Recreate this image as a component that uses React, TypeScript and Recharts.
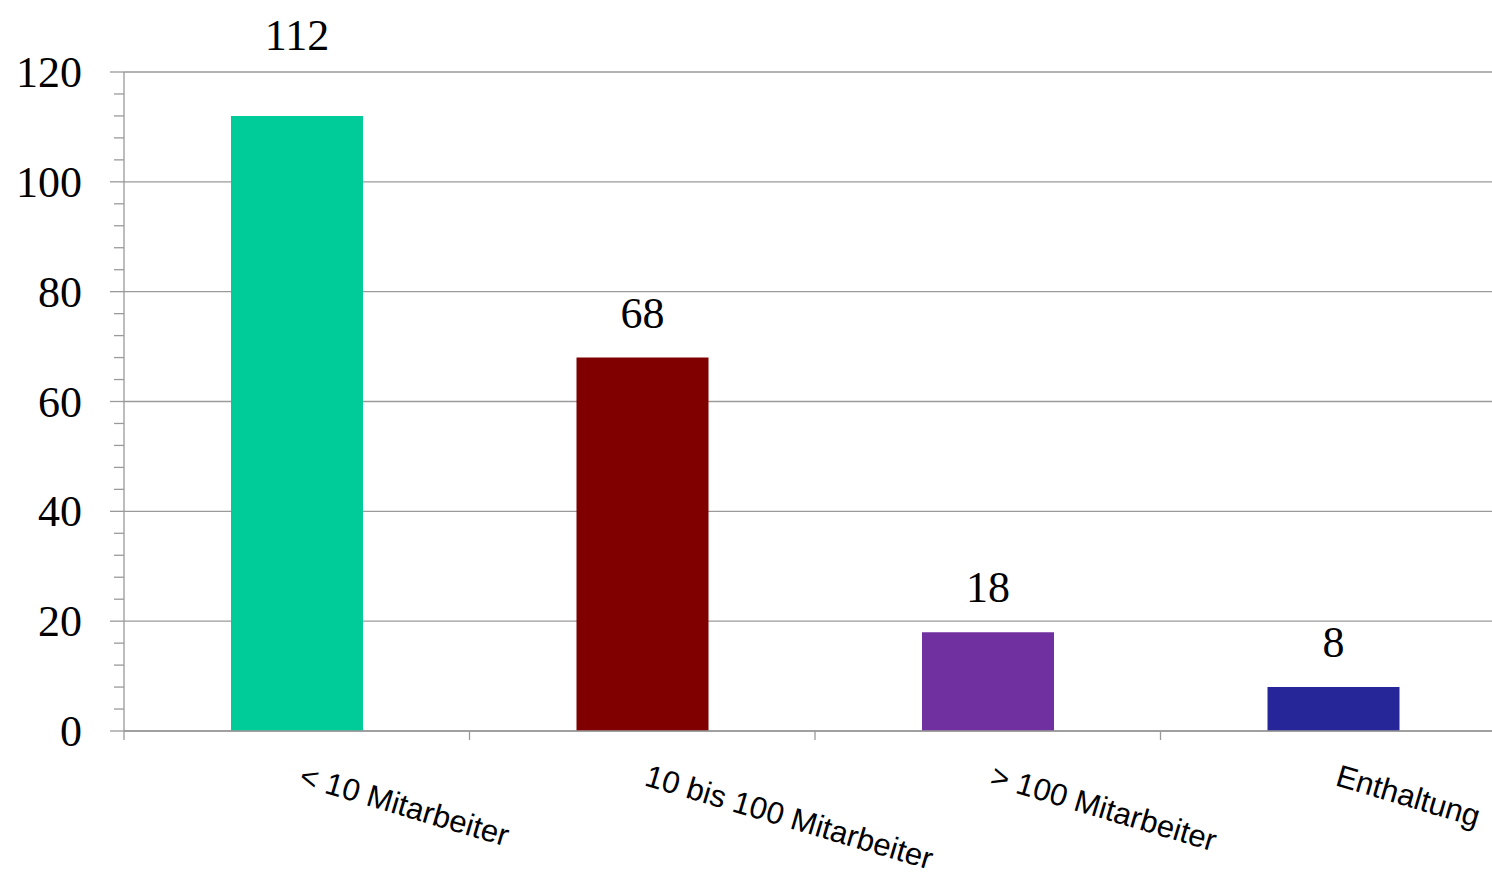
import React from 'react';
import { BarChart, Bar, XAxis, YAxis, CartesianGrid, Cell, LabelList } from 'recharts';

const categories = ['< 10 Mitarbeiter', '10 bis 100 Mitarbeiter', '> 100 Mitarbeiter', 'Enthaltung'];
const values = [112, 68, 18, 8];
const barColors = ['#00CC99', '#800000', '#7030A0', '#262699'];
const majorTicks = [0, 20, 40, 60, 80, 100, 120];
const allTicks = [0, 4, 8, 12, 16, 20, 24, 28, 32, 36, 40, 44, 48, 52, 56, 60, 64, 68, 72, 76, 80, 84, 88, 92, 96, 100, 104, 108, 112, 116, 120];

const data = categories.map((c, i) => ({ name: c, value: values[i] }));

const CHART_W = 1506;
const CHART_H = 878;
const MARGIN_TOP = 72;
const Y_AXIS_W = 124;
const X_AXIS_H = 147;
const HALF_BAND = (CHART_W - Y_AXIS_W) / categories.length / 2;
const GRAY = '#9a9a9a';
const SERIF = '"Liberation Serif", "Times New Roman", serif';
const SANS = '"Liberation Sans", Arial, sans-serif';

const YTick = (props: any) => {
  const { x, y, payload } = props;
  const major = payload.value % 20 === 0;
  return (
    <g>
      <line x1={x - (major ? 14 : 10)} x2={x} y1={y} y2={y} stroke={GRAY} strokeWidth={1.3} />
      {major && (
        <text x={x - 42} y={y} dy={15} textAnchor="end" fontFamily={SERIF} fontSize={44} fill="#000">
          {payload.value}
        </text>
      )}
    </g>
  );
};

const XTick = (props: any) => {
  const { x, y, payload } = props;
  const ox = x + 1;
  const oy = y + 54;
  return (
    <g>
      <line x1={x - HALF_BAND} x2={x - HALF_BAND} y1={y} y2={y + 9} stroke={GRAY} strokeWidth={1.3} />
      <text x={ox} y={oy} transform={`rotate(16.5, ${ox}, ${oy})`} textAnchor="start" fontFamily={SANS} fontSize={31} fill="#000">
        {payload.value}
      </text>
    </g>
  );
};

const ValueLabel = (props: any) => {
  const { x, y, width, value } = props;
  let by = y - 30;
  if (by - 32 < MARGIN_TOP) by = MARGIN_TOP - 22;
  return (
    <text x={x + width / 2} y={by} textAnchor="middle" fontFamily={SERIF} fontSize={44} fill="#000">
      {value}
    </text>
  );
};

export default function App() {
  return (
    <div style={{ position: 'fixed', left: 0, top: 0, width: 1492, height: 878, overflow: 'hidden', background: '#fff' }}>
      <BarChart width={CHART_W} height={CHART_H} data={data} margin={{ top: MARGIN_TOP, right: 0, bottom: 0, left: 0 }}>
        <CartesianGrid horizontal vertical={false} horizontalValues={majorTicks} stroke={GRAY} strokeWidth={1.3} />
        <XAxis
          dataKey="name"
          height={X_AXIS_H}
          axisLine={{ stroke: GRAY, strokeWidth: 1.3 }}
          tickLine={false}
          tickSize={0}
          tickMargin={0}
          interval={0}
          tick={<XTick />}
        />
        <YAxis
          width={Y_AXIS_W}
          domain={[0, 120]}
          ticks={allTicks}
          interval={0}
          axisLine={{ stroke: GRAY, strokeWidth: 1.3 }}
          tickLine={false}
          tickSize={0}
          tickMargin={0}
          tick={<YTick />}
        />
        <Bar dataKey="value" barSize={132} isAnimationActive={false}>
          {data.map((d, i) => (
            <Cell key={d.name} fill={barColors[i]} />
          ))}
          <LabelList dataKey="value" content={<ValueLabel />} />
        </Bar>
      </BarChart>
    </div>
  );
}
